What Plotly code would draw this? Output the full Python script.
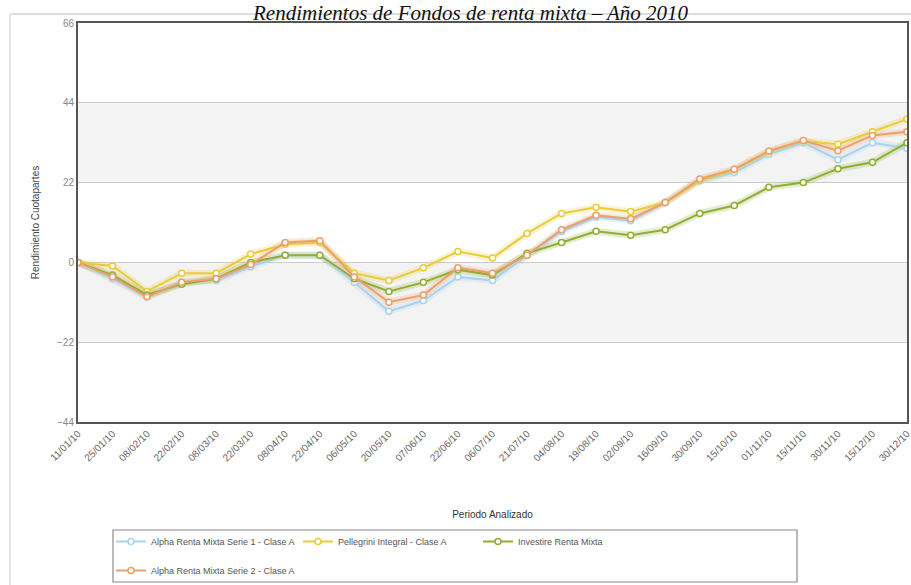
import plotly.graph_objects as go

dates = ["11/01/10", "25/01/10", "08/02/10", "22/02/10", "08/03/10", "22/03/10", "08/04/10",
         "22/04/10", "06/05/10", "20/05/10", "07/06/10", "22/06/10", "06/07/10", "21/07/10",
         "04/08/10", "19/08/10", "02/09/10", "16/09/10", "30/09/10", "15/10/10", "01/11/10",
         "15/11/10", "30/11/10", "15/12/10", "30/12/10"]

alpha1 = [0, -4.5, -9.5, -5.5, -5, -1.2, 2, 2, -5.5, -13.5, -10.5, -4, -5, 2, 8.5,
          12.5, 11.5, 16.5, 22.5, 24.8, 29.8, 33, 28.3, 33, 31.5]
pellegrini = [0, -1, -8, -3, -3, 2.3, 5, 5.5, -3, -5, -1.5, 3, 1.2, 8, 13.5,
              15.2, 14, 16.5, 22.5, 25.5, 30.5, 33.5, 32.6, 36, 39.5]
investire = [0, -3.5, -9, -6, -4.5, 0, 2, 2, -4.5, -8, -5.5, -2, -3.5, 2.5, 5.5,
             8.6, 7.5, 9, 13.5, 15.7, 20.7, 22, 25.8, 27.6, 33]
alpha2 = [0, -4, -9.5, -5.5, -4.5, -0.6, 5.5, 6, -4, -11, -9, -1.5, -3, 2, 9,
          13, 12, 16.5, 23, 25.7, 30.7, 33.6, 30.8, 35, 36]

series = [
    ("Alpha Renta Mixta Serie 1 - Clase A", alpha1, "#a9d2ec", "legend", 142),
    ("Pellegrini Integral - Clase A", pellegrini, "#e8cc3c", "legend", 135),
    ("Investire Renta Mixta", investire, "#8fae32", "legend", 120),
    ("Alpha Renta Mixta Serie 2 - Clase A", alpha2, "#eba06c", "legend2", 150),
]

fig = go.Figure()

for name, vals, col, lg, lw in series:
    fig.add_trace(go.Scatter(x=dates, y=vals, mode="lines", line=dict(color=col, width=7),
                             opacity=0.22, showlegend=False, hoverinfo="skip"))

for name, vals, col, lg, lw in series:
    fig.add_trace(go.Scatter(
        x=dates, y=vals, name=name, mode="lines+markers",
        line=dict(color=col, width=2),
        marker=dict(symbol="circle", size=6, color="white", line=dict(color=col, width=1.5)),
        legend=lg, legendwidth=lw,
    ))

L, R, T, B = 78, 4, 23, 163
W, H = 911, 585
pw = W - L - R
ph = H - T - B

def px_x(p):
    return (p - L) / pw

def px_y(p):
    return (H - B - p) / ph

shapes = []
for y0, y1 in [(22, 44), (-22, 0)]:
    shapes.append(dict(type="rect", xref="paper", yref="y", x0=0, x1=1, y0=y0, y1=y1,
                       fillcolor="#f3f3f3", line=dict(width=0), layer="below"))
shapes.append(dict(type="rect", xref="paper", yref="paper", x0=px_x(113), x1=px_x(797),
                   y0=px_y(582), y1=px_y(530), line=dict(color="#8a8a8a", width=1.2),
                   fillcolor="rgba(0,0,0,0)"))
shapes.append(dict(type="line", xref="paper", yref="paper", x0=px_x(10), x1=px_x(911),
                   y0=px_y(14), y1=px_y(14), line=dict(color="#dddddd", width=2)))
shapes.append(dict(type="line", xref="paper", yref="paper", x0=px_x(10), x1=px_x(10),
                   y0=px_y(14), y1=px_y(585), line=dict(color="#e6e6e6", width=2)))

fig.update_layout(
    width=W, height=H,
    margin=dict(l=L, r=R, t=T, b=B, autoexpand=False),
    paper_bgcolor="white", plot_bgcolor="white",
    font=dict(family="Liberation Sans, Arial, sans-serif", color="#555555", size=10),
    shapes=shapes,
    showlegend=True,
    legend=dict(orientation="h", x=px_x(111), y=px_y(527), xanchor="left", yanchor="top",
                font=dict(size=9, color="#555555"), bgcolor="rgba(0,0,0,0)", borderwidth=0,
                itemwidth=30),
    legend2=dict(orientation="h", x=px_x(111), y=px_y(556), xanchor="left", yanchor="top",
                 font=dict(size=9, color="#555555"), bgcolor="rgba(0,0,0,0)", borderwidth=0,
                 itemwidth=30),
    annotations=[
        dict(text="Rendimientos de Fondos de renta mixta – Año 2010", xref="paper", yref="paper",
             x=px_x(470), y=px_y(-1), xanchor="center", yanchor="top", showarrow=False,
             font=dict(family="Liberation Serif, Times New Roman, serif", size=21,
                       color="#111111", style="italic")),
    ],
)

fig.update_xaxes(
    type="category", range=[0, len(dates) - 1], tickangle=-45,
    tickfont=dict(size=10, color="#666666"), automargin=False,
    showgrid=False, showline=True, linecolor="#555555", linewidth=2, mirror=True,
    ticks="", title=dict(text="Periodo Analizado", font=dict(size=10, color="#333333"), standoff=49),
)
fig.update_yaxes(
    range=[-44, 66], tickvals=[-44, -22, 0, 22, 44, 66], automargin=False,
    tickfont=dict(size=10, color="#888888"),
    showgrid=True, gridcolor="#cccccc", gridwidth=1, zeroline=False,
    showline=True, linecolor="#555555", linewidth=2, mirror=True,
    title=dict(text="Rendimiento Cuotapartes", font=dict(size=10, color="#444444"), standoff=16),
)

fig.write_html("out.html", config={"displayModeBar": False},
               post_script="document.body.style.margin='0';")
